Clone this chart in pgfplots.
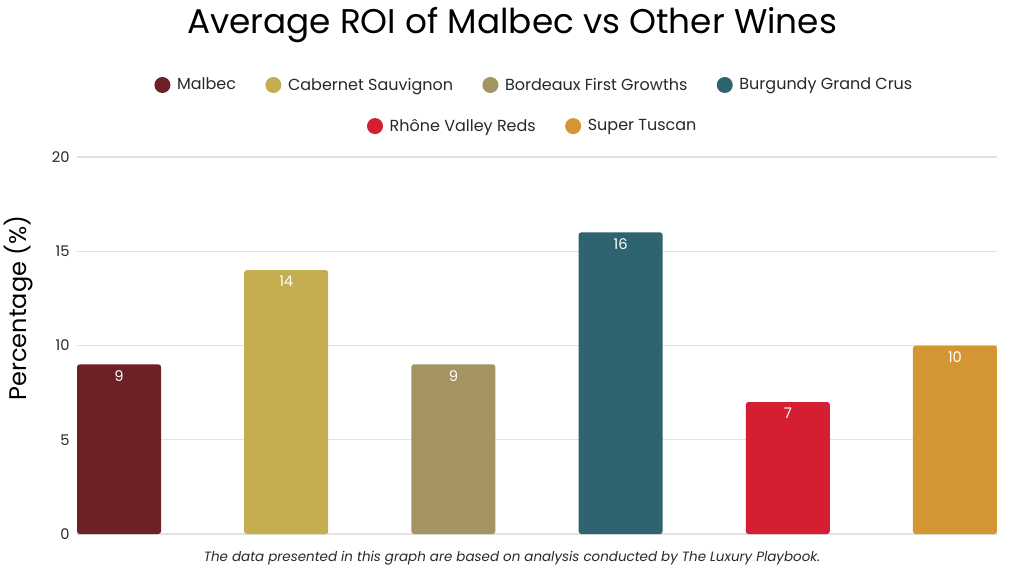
\documentclass[border=0pt]{standalone}
\usepackage{pgfplots}
\pgfplotsset{compat=1.18}
\usepackage{fontspec}
\setmainfont{Poppins}
\definecolor{cMal}{RGB}{109,32,37}
\definecolor{cCab}{RGB}{197,174,80}
\definecolor{cBor}{RGB}{163,148,97}
\definecolor{cBur}{RGB}{46,99,112}
\definecolor{cRho}{RGB}{212,30,50}
\definecolor{cSup}{RGB}{212,150,50}
\definecolor{cGrid}{RGB}{226,226,226}
\definecolor{cText}{RGB}{40,40,40}
\pgfplotsset{
  common/.style={
    at={(57.75pt,31.5pt)}, anchor=south west,
    scale only axis, width=690pt, height=282.75pt,
    xmin=-0.2515, xmax=5.2515, ymin=0, ymax=20,
    ybar, bar width=63pt, bar shift=0pt,
    /pgf/number format/assume math mode=true,
    nodes near coords,
    every node near coord/.append style={anchor=north, text=white, font=\fontsize{11}{12}\selectfont, yshift=-1pt},
    legend image code/.code={\fill[##1,draw=none] (0pt,0pt) circle (6pt);},
    legend style={draw=none, fill=none, font=\fontsize{12}{14}\selectfont, text=cText,
      /tikz/every odd column/.append style={column sep=3pt},
      /tikz/every even column/.append style={column sep=20pt}},
  }
}
\begin{document}
\begin{tikzpicture}
\useasboundingbox (0pt,0pt) rectangle (768pt,432pt);
\fill[white] (0pt,0pt) rectangle (768pt,432pt);
\node[font=\fontsize{25.7}{30}\selectfont, text=black] at (384pt,413pt) {Average ROI of Malbec vs Other Wines};
\begin{axis}[common,
  ytick={0,5,10,15,20}, xtick=\empty,
  axis line style={draw=none},
  major tick length=0pt,
  ymajorgrids, grid style={color=cGrid, line width=0.8pt},
  yticklabel style={font=\fontsize{11}{12}\selectfont, text=cText, xshift=-2pt},
  ylabel={Percentage (\%)},
  ylabel style={at={(axis description cs:-0.064,0.6)}, anchor=center, font=\fontsize{18}{22}\selectfont, text=black},
  legend columns=4,
  legend style={at={(axis description cs:0.4975,1.191)}, anchor=center},
]
\addplot[fill=cMal, draw=none, rounded corners=2pt] coordinates {(0,9)};
\addlegendentry{Malbec}
\addplot[fill=cCab, draw=none, rounded corners=2pt] coordinates {(1,14)};
\addlegendentry{Cabernet Sauvignon}
\addplot[fill=cBor, draw=none, rounded corners=2pt] coordinates {(2,9)};
\addlegendentry{Bordeaux First Growths}
\addplot[fill=cBur, draw=none, rounded corners=2pt] coordinates {(3,16)};
\addlegendentry{Burgundy Grand Crus}
\end{axis}
\begin{axis}[common, hide axis,
  legend columns=2,
  legend style={at={(axis description cs:0.4957,1.082)}, anchor=center},
]
\addplot[fill=cRho, draw=none, rounded corners=2pt] coordinates {(4,7)};
\addlegendentry{Rhône Valley Reds}
\addplot[fill=cSup, draw=none, rounded corners=2pt] coordinates {(5,10)};
\addlegendentry{Super Tuscan}
\end{axis}
\node[font=\itshape\fontsize{10.1}{12}\selectfont, text=cText] at (384pt,13.5pt) {The data presented in this graph are based on analysis conducted by The Luxury Playbook.};
\end{tikzpicture}
\end{document}
